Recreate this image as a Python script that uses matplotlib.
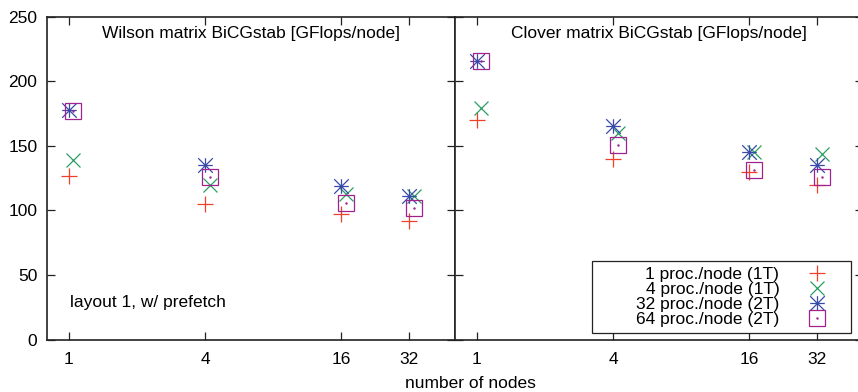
import numpy as np
import matplotlib
matplotlib.use("Agg")
import matplotlib.pyplot as plt
from matplotlib.path import Path
from matplotlib.lines import Line2D
from matplotlib.transforms import offset_copy

plt.rcParams['font.family'] = ['Liberation Sans', 'DejaVu Sans']

# data (GFlops/node)
nodes = [1, 4, 16, 32]
series_names = ["1 proc./node (1T)", "4 proc./node (1T)", "32 proc./node (2T)", "64 proc./node (2T)"]
wilson_1p = [127, 105, 97.5, 92]
wilson_4p = [139, 120, 112.5, 111]
wilson_32p = [177.5, 135, 119, 111]
wilson_64p = [177, 126, 105.5, 102]
clover_1p = [170, 140, 129.5, 120]
clover_4p = [179, 160, 145, 143.5]
clover_32p = [215.5, 165, 145, 135]
clover_64p = [216, 151, 131.5, 126]
yticks = [0, 50, 100, 150, 200, 250]

# styles
colors = ["#f0402a", "#2a9e62", "#3a4aa8", "#a0228e"]
asterisk = Path([(-1, 0), (1, 0), (0, -1), (0, 1), (-1, -1), (1, 1), (-1, 1), (1, -1)],
                [Path.MOVETO, Path.LINETO] * 4)
markers = ["+", "x", asterisk, "s"]
msizes = [11.5, 10.5, 10.5, 11.5]
shift = [0, 4.5, 0, 4.5]  # gnuplot-like small horizontal offset in pixels
fs = 12.5
W, H = 858, 392

fig = plt.figure(figsize=(W / 100, H / 100), dpi=100)
bot = 1 - 339.5 / H
hgt = (339.5 - 16.7) / H
ax1 = fig.add_axes([47 / W, bot, 408 / W, hgt])
ax2 = fig.add_axes([455 / W, bot, 408 / W, hgt], sharey=ax1)

panels = [(ax1, [wilson_1p, wilson_4p, wilson_32p, wilson_64p], "Wilson matrix BiCGstab [GFlops/node]"),
          (ax2, [clover_1p, clover_4p, clover_32p, clover_64p], "Clover matrix BiCGstab [GFlops/node]")]

for ax, data, title in panels:
    for i, vals in enumerate(data):
        tr = offset_copy(ax.transData, fig=fig, x=shift[i], y=0, units='dots')
        ax.plot(nodes, vals, linestyle='none', marker=markers[i], ms=msizes[i],
                mec=colors[i], mfc='none', mew=0.9, color=colors[i], transform=tr, clip_on=False)
        if i == 3:
            ax.plot(nodes, vals, linestyle='none', marker='.', ms=1.5, color=colors[i], transform=tr)
    ax.set_xscale('log')
    ax.set_xlim(0.8, 51)
    ax.set_ylim(0, 250)
    ax.set_xticks(nodes)
    ax.set_xticklabels([str(n) for n in nodes])
    ax.minorticks_off()
    ax.set_yticks(yticks)
    ax.tick_params(direction='in', length=5.5, width=0.9, top=True, right=True,
                   labelsize=fs, color='#222222')
    ax.tick_params(axis='x', pad=9)
    ax.tick_params(axis='y', pad=7)
    for s in ax.spines.values():
        s.set_linewidth(1.2)
        s.set_color('#222222')
    ax.text(0.5, 0.9495, title, transform=ax.transAxes, ha='center', va='center', fontsize=fs)

ax2.tick_params(labelleft=False)
ax1.text(0.0564, 0.116, "layout 1, w/ prefetch", transform=ax1.transAxes, ha='left', va='center', fontsize=fs)

fig.text(470 / W, 1 - 384 / H, "number of nodes", ha='center', va='center', fontsize=fs)

handles = []
for i in range(4):
    h = Line2D([], [], linestyle='none', marker=markers[i], ms=msizes[i], mec=colors[i],
               mfc='none', mew=0.9, color=colors[i])
    if i == 3:
        h = (h, Line2D([], [], linestyle='none', marker='.', ms=1.5, color=colors[i]))
    handles.append(h)
labels = ["        " + s for s in series_names]
leg = ax2.legend(handles, labels, loc='lower right', bbox_to_anchor=(851 / W, 1 - 332.5 / H),
                 bbox_transform=fig.transFigure, markerfirst=False, fontsize=fs,
                 frameon=True, fancybox=False, framealpha=1, edgecolor='#222222',
                 borderpad=0.3, labelspacing=0.0, handlelength=3.3, handletextpad=0.53,
                 borderaxespad=0)
leg.get_frame().set_linewidth(0.9)

fig.savefig("out.png", dpi=100)
